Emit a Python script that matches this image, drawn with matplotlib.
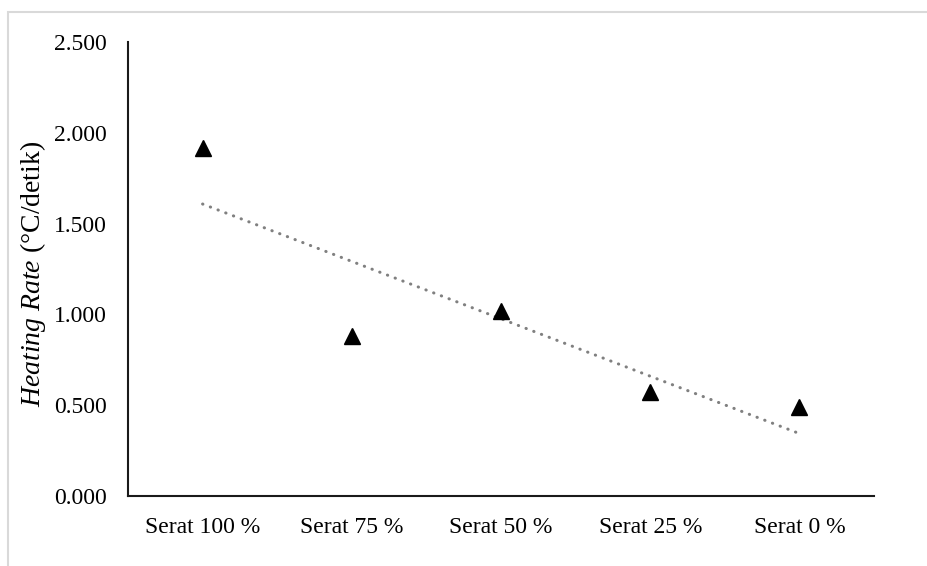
import numpy as np
import matplotlib
matplotlib.use('Agg')
import matplotlib.pyplot as plt
from matplotlib.patches import Rectangle

# data
categories = ['Serat 100 %', 'Serat 75 %', 'Serat 50 %', 'Serat 25 %', 'Serat 0 %']
heating_rate = [1.916, 0.881, 1.019, 0.573, 0.490]
y_ticks = [0.0, 0.5, 1.0, 1.5, 2.0, 2.5]

plt.rcParams['font.family'] = ['Liberation Serif', 'DejaVu Serif']
plt.rcParams['mathtext.fontset'] = 'custom'
plt.rcParams['mathtext.rm'] = 'Liberation Serif'
plt.rcParams['mathtext.it'] = 'Liberation Serif:italic'

fig = plt.figure(figsize=(9.28, 5.66), dpi=100)
ax = fig.add_axes([128 / 928, 70 / 566, 746 / 928, 454 / 566])

x = np.arange(1, len(categories) + 1)
ax.plot(x, heating_rate, linestyle='none', marker='^', markersize=12,
        color='black', zorder=3)

# linear trendline (as Excel does)
slope, intercept = np.polyfit(x, heating_rate, 1)
ax.plot(x, slope * x + intercept, color='#808080', linewidth=2.2,
        linestyle=(0, (0.1, 2.6)), dash_capstyle='round', zorder=2)

ax.set_xlim(0.5, len(categories) + 0.5)
ax.set_ylim(0, 2.5)
ax.set_xticks(x)
ax.set_xticklabels(categories)
ax.set_yticks(y_ticks)
ax.set_yticklabels([f'{v:.3f}' for v in y_ticks])
ax.tick_params(axis='both', length=0, labelsize=17, colors='black')
ax.tick_params(axis='y', pad=15)
ax.tick_params(axis='x', pad=15)

for side in ['top', 'right']:
    ax.spines[side].set_visible(False)
for side in ['left', 'bottom']:
    ax.spines[side].set_linewidth(1.5)
    ax.spines[side].set_color('#1a1a1a')

ax.set_ylabel(r'$Heating\ Rate$ (°C/detik)', fontsize=20)
ax.yaxis.set_label_coords(-0.107, 0.49)

# light grey chart frame
fig.patches.append(Rectangle((8.5 / 928, -0.1), 1.2, (566 - 11.5) / 566 + 0.1,
                             transform=fig.transFigure, fill=False,
                             edgecolor='#d9d9d9', linewidth=1.5))

fig.savefig('out.png', dpi=100)
